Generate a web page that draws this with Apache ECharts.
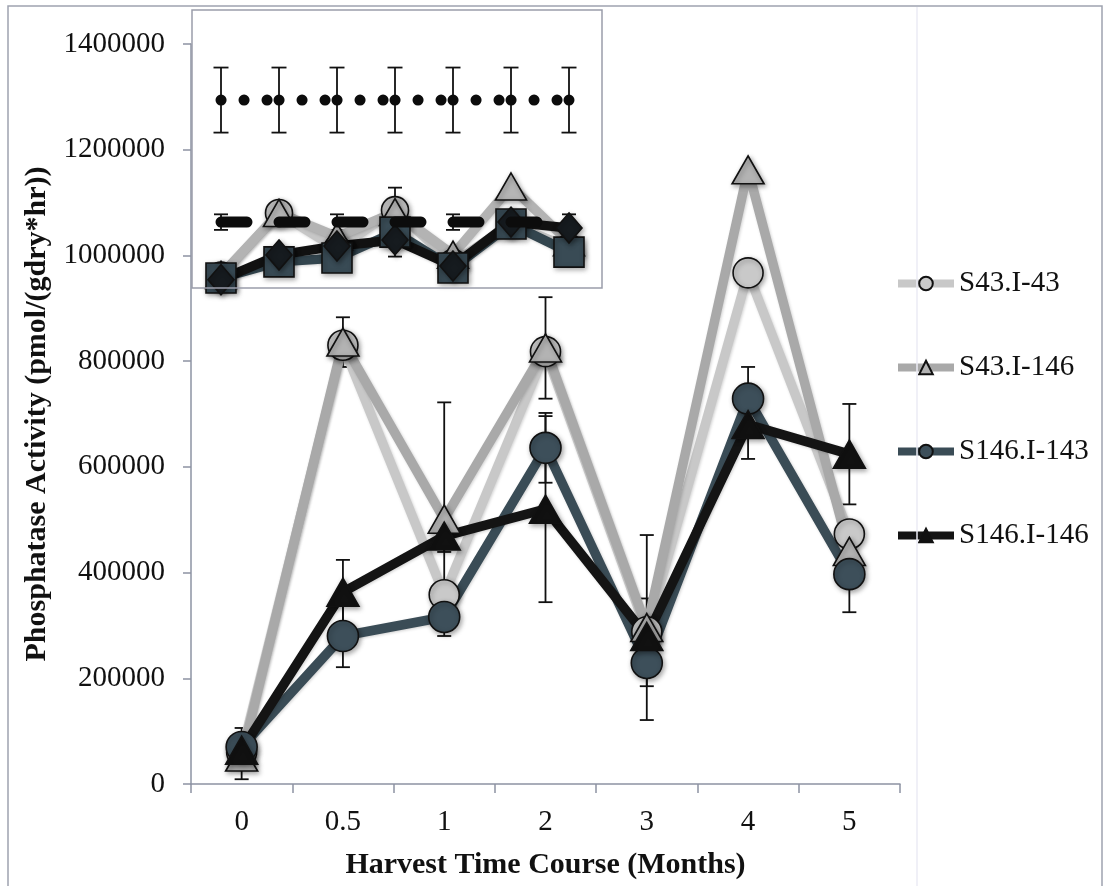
<!DOCTYPE html>
<html>
<head>
<meta charset="utf-8">
<script src="https://cdn.jsdelivr.net/npm/echarts@6/dist/echarts.min.js"></script>
<style>
  html, body { margin: 0; padding: 0; background: #fff; }
  #chart { width: 1105px; height: 886px; }
</style>
</head>
<body>
<div id="chart"></div>
<script>
// Harvest time points (months)
const months = ['0', '0.5', '1', '2', '3', '4', '5'];
const yTicks = [0, 200000, 400000, 600000, 800000, 1000000, 1200000, 1400000];

// Phosphatase activity, pmol/(gdry*hr)
const s43_I43   = [60000, 830000, 358000, 818000, 288000,  967000, 473000];
const s43_I146  = [51000, 836000, 501000, 825000, 296000, 1162000, 440000];
const s146_I143 = [70000, 280000, 316000, 636000, 229000,  729000, 397000];
const s146_I146 = [64000, 363000, 469000, 520000, 279000,  680000, 624000];

// Standard deviations (null = no bar shown)
const s43_I43Err   = [null, null, null, null, null, null, null];
const s43_I146Err  = [42000, 47000, 221000, 96000, 175000, null, null];
const s146_I143Err = [36000, 59000, null, 66000, 44000, 60000, 72000];
const s146_I146Err = [null, 61000, 30000, 176000, 72000, 65000, 95000];

// Inset panel (relative units)
const insetCircles   = [4.5, 27.0, 14.0, 28.0, 9.0, 23.0, 14.5];
const insetTriangles = [4.7, 27.0, 18.5, 27.3, 12.0, 36.5, 16.5];
const insetSquares   = [3.6, 9.4, 10.8, 20.1, 7.2, 23.0, 12.9];
const insetDiamonds  = [3.0, 11.9, 15.1, 17.3, 7.9, 23.7, 21.6];
const insetDashed    = [23.7, 23.7, 23.7, 23.7, 23.7, 23.7, 23.7];
const insetDashedErr = [2.8, null, 2.8, 12.4, 2.8, null, 2.8];
const insetDotted    = [67.6, 67.6, 67.6, 67.6, 67.6, 67.6, 67.6];
const insetDottedErr = [11.7, 11.7, 11.7, 11.7, 11.7, 11.7, 11.7];

const FONT = '"Liberation Serif", "Times New Roman", serif';
const AXIS_COLOR = '#8d93a3';

function errData(values, errs) {
  const out = [];
  values.forEach((v, i) => {
    if (errs[i] != null) out.push([i, v - errs[i], v + errs[i]]);
  });
  return out;
}

function errRenderer(capHalf) {
  return function (params, api) {
    const x = api.value(0);
    const lo = api.coord([x, api.value(1)]);
    const hi = api.coord([x, api.value(2)]);
    const st = { stroke: '#111', lineWidth: 1.8 };
    return {
      type: 'group',
      children: [
        { type: 'line', shape: { x1: lo[0], y1: lo[1], x2: hi[0], y2: hi[1] }, style: st },
        { type: 'line', shape: { x1: lo[0] - capHalf, y1: lo[1], x2: lo[0] + capHalf, y2: lo[1] }, style: st },
        { type: 'line', shape: { x1: hi[0] - capHalf, y1: hi[1], x2: hi[0] + capHalf, y2: hi[1] }, style: st }
      ]
    };
  };
}

const markerShadow = { shadowBlur: 5, shadowColor: 'rgba(0,0,0,0.35)', shadowOffsetX: 1.5, shadowOffsetY: 2 };
const lineShadow = { shadowBlur: 3, shadowColor: 'rgba(0,0,0,0.18)', shadowOffsetX: 1, shadowOffsetY: 1 };

function plotLine(name, data, symbol, size, lineColor, fill, axisIdx) {
  return {
    name, type: 'line', data, symbol, symbolSize: size,
    xAxisIndex: axisIdx, yAxisIndex: axisIdx, z: 3,
    lineStyle: Object.assign({ color: lineColor, width: 9.5, join: 'round' }, lineShadow),
    itemStyle: Object.assign({ color: fill, borderColor: '#111', borderWidth: 1.6 }, markerShadow),
    emphasis: { disabled: true }
  };
}

function errSeries(axisIdx, values, errs, capHalf) {
  return {
    type: 'custom', xAxisIndex: axisIdx, yAxisIndex: axisIdx, z: 1,
    data: errData(values, errs), renderItem: errRenderer(capHalf),
    silent: true
  };
}

const chart = echarts.init(document.getElementById('chart'), null, { renderer: 'canvas' });

chart.setOption({
  backgroundColor: '#fff',
  animation: false,
  textStyle: { fontFamily: FONT, color: '#111' },
  grid: [
    { left: 191, top: 44, width: 709, height: 740 },
    { left: 192, top: 10, width: 406, height: 278, show: true, backgroundColor: '#fff', borderWidth: 0 }
  ],
  xAxis: [
    {
      type: 'category', gridIndex: 0, data: months, boundaryGap: true,
      name: 'Harvest Time Course (Months)', nameLocation: 'middle', nameGap: 66,
      nameTextStyle: { fontFamily: FONT, fontWeight: 'bold', fontSize: 30, color: '#111' },
      axisLine: { lineStyle: { color: AXIS_COLOR, width: 1.5 } },
      axisTick: { show: true, length: 9, lineStyle: { color: AXIS_COLOR, width: 1.5 } },
      axisLabel: { fontFamily: FONT, fontSize: 29, color: '#111', margin: 24 },
      splitLine: { show: false }
    },
    {
      type: 'category', gridIndex: 1, data: months, boundaryGap: true, show: false
    }
  ],
  yAxis: [
    {
      type: 'value', gridIndex: 0, min: yTicks[0], max: yTicks[yTicks.length - 1], interval: 200000,
      name: 'Phosphatase Activity (pmol/(gdry*hr))', nameLocation: 'middle', nameGap: 138,
      nameTextStyle: { fontFamily: FONT, fontWeight: 'bold', fontSize: 30, color: '#111' },
      axisLine: { show: true, lineStyle: { color: AXIS_COLOR, width: 1.5 } },
      axisTick: { show: true, length: 8, lineStyle: { color: AXIS_COLOR, width: 1.5 } },
      axisLabel: { fontFamily: FONT, fontSize: 29, color: '#111', margin: 26, formatter: v => String(v) },
      splitLine: { show: false }
    },
    {
      type: 'value', gridIndex: 1, min: 0, max: 100, show: false, splitLine: { show: false }
    }
  ],
  legend: {
    orient: 'vertical', left: 894, top: 269, padding: 0,
    itemWidth: 56, itemHeight: 17, itemGap: 55,
    selectedMode: false,
    lineStyle: { width: 8 },
    textStyle: { fontFamily: FONT, fontSize: 29, color: '#111' },
    data: ['S43.I-43', 'S43.I-146', 'S146.I-143', 'S146.I-146']
  },
  graphic: [
    { type: 'rect', z: 100, silent: true, shape: { x: 8, y: 6, width: 1094, height: 895 },
      style: { fill: 'none', stroke: '#9ea3b0', lineWidth: 1.5 } },
    { type: 'line', z: 100, silent: true, shape: { x1: 917, y1: 7, x2: 917, y2: 886 },
      style: { stroke: '#ebebf5', lineWidth: 1.5 } },
    { type: 'rect', z: 100, silent: true, shape: { x: 192, y: 10, width: 410, height: 278 },
      style: { fill: 'none', stroke: '#9a9daa', lineWidth: 1.5 } }
  ],
  series: [
    // error bars of the main plot
    errSeries(0, s43_I43, s43_I43Err, 7),
    errSeries(0, s43_I146, s43_I146Err, 7),
    errSeries(0, s146_I143, s146_I143Err, 7),
    errSeries(0, s146_I146, s146_I146Err, 7),
    // main plot lines
    plotLine('S43.I-43', s43_I43, 'circle', 30, '#c8c8c8', '#c9c9c9', 0),
    plotLine('S43.I-146', s43_I146, 'triangle', [32, 28], '#a9a9a9', '#b3b3b3', 0),
    plotLine('S146.I-143', s146_I143, 'circle', 31, '#3a4c56', '#3d4f5a', 0),
    plotLine('S146.I-146', s146_I146, 'triangle', [32, 28], '#141414', '#111111', 0),

    // inset panel
    plotLine('circles', insetCircles, 'circle', 27, '#c6c6c6', '#c4c4c4', 1),
    plotLine('triangles', insetTriangles, 'triangle', [31, 27], '#b3b3b3', '#b5b5b5', 1),
    plotLine('squares', insetSquares, 'rect', 30, '#33454e', '#394b55', 1),
    plotLine('diamonds', insetDiamonds, 'diamond', [26, 30], '#111', '#161b1f', 1),
    errSeries(1, insetDashed, insetDashedErr, 7),
    errSeries(1, insetDotted, insetDottedErr, 7.5),
    {
      name: 'dashed', type: 'line', data: insetDashed, symbol: 'none',
      xAxisIndex: 1, yAxisIndex: 1, z: 4,
      lineStyle: { color: '#0c0c0c', width: 11, cap: 'round', type: [26, 32] },
      emphasis: { disabled: true }
    },
    {
      name: 'dotted', type: 'line', data: insetDotted, symbol: 'none',
      xAxisIndex: 1, yAxisIndex: 1, z: 4,
      lineStyle: { color: '#0c0c0c', width: 11, cap: 'round', type: [0.1, 22.9, 0.1, 22.9, 0.1, 11.9] },
      emphasis: { disabled: true }
    }
  ]
});
</script>
</body>
</html>
